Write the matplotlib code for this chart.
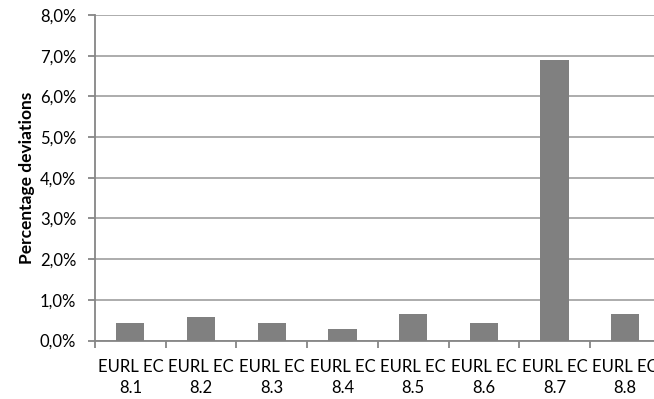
import matplotlib
matplotlib.use("Agg")
import matplotlib.pyplot as plt
from matplotlib.ticker import FuncFormatter, MultipleLocator, FixedLocator

plt.rcParams['font.family'] = ['Lato', 'DejaVu Sans']

categories = ["EURL EC\n8.1", "EURL EC\n8.2", "EURL EC\n8.3", "EURL EC\n8.4",
              "EURL EC\n8.5", "EURL EC\n8.6", "EURL EC\n8.7", "EURL EC\n8.8"]
deviations = [0.43, 0.58, 0.44, 0.29, 0.66, 0.44, 6.90, 0.66]

fig = plt.figure(figsize=(6.54, 3.99), dpi=100)
W, H = 654, 399
left, right, top, bottom = 95, 660.6, 15, 340.5
ax = fig.add_axes([left / W, 1 - bottom / H, (right - left) / W, (bottom - top) / H])

x = list(range(len(categories)))
ax.bar(x, deviations, width=0.4, color="#808080", zorder=3)

ax.set_xlim(-0.5, len(categories) - 0.5)
ax.set_ylim(0, 8)
ax.yaxis.set_major_locator(MultipleLocator(1))
ax.yaxis.set_major_formatter(FuncFormatter(lambda v, p: f"{v:.1f}%".replace(".", ",")))
ax.grid(axis="y", color="#a6a6a6", linewidth=1.3, zorder=0)

ax.set_xticks(x)
ax.set_xticklabels(categories, linespacing=1.4)
ax.xaxis.set_minor_locator(FixedLocator([i - 0.5 for i in range(len(categories) + 1)]))
ax.tick_params(axis="x", which="major", length=0, pad=13.5, labelsize=12, colors="#000000")
ax.tick_params(axis="x", which="minor", length=5, width=1.3, color="#868686")
ax.tick_params(axis="y", length=5, width=1.3, color="#868686", labelsize=12, pad=8.5)

for s in ["top", "right"]:
    ax.spines[s].set_visible(False)
for s in ["left", "bottom"]:
    ax.spines[s].set_color("#868686")
    ax.spines[s].set_linewidth(1.3)

ax.set_ylabel("Percentage deviations", fontsize=12.5, fontweight="bold")
ax.yaxis.set_label_coords(-0.106, 0.5)

fig.savefig("out.png", dpi=100)
